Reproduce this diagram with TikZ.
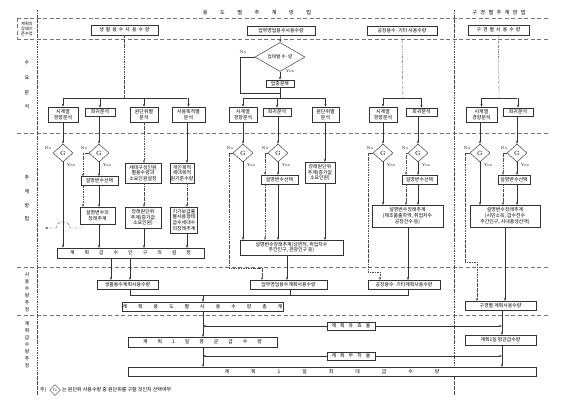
\documentclass[tikz,border=0pt]{standalone}
\usepackage{fontspec}
\newfontfamily\kr{Noto Sans CJK KR}
\usetikzlibrary{arrows.meta,shapes.geometric}
\newcommand\gp{\hspace{2pt}}
\begin{document}
\begin{tikzpicture}[x=1pt,y=-1pt,
 bx/.style={draw=black!80,line width=0.5pt,fill=white,inner sep=0.6pt,font=\kr\fontsize{4.9}{5.7}\selectfont,align=center},
 gd/.style={diamond,draw=black!80,line width=0.45pt,fill=white,inner sep=0pt,minimum width=20pt,minimum height=18pt,font=\fontsize{6}{6}\selectfont},
 ar/.style={draw=black!80,line width=0.4pt,-{Stealth[length=3pt,width=2.2pt]}},
 ln/.style={draw=black!80,line width=0.4pt},
 dd/.style={draw=black!70,line width=0.4pt,dash pattern=on 2.5pt off 1pt on 0.6pt off 1pt},
 dda/.style={dd,-{Stealth[length=3pt,width=2.2pt]}},
 sep/.style={draw=black!55,line width=0.5pt,dash pattern=on 4pt off 2.5pt},
 lb/.style={font=\kr\fontsize{4.8}{5.6}\selectfont,align=center,inner sep=0pt},
 yn/.style={font=\fontsize{4}{4}\selectfont,inner sep=0pt}]
\useasboundingbox (0,0) rectangle (574,401);
\fill[white] (0,0) rectangle (574,401);
% separators
\draw[sep] (17,18) -- (548,18);
\draw[sep] (17,39) -- (548,39);
\draw[sep] (17,133) -- (548,133);
\draw[sep] (17,267) -- (548,267);
\draw[sep] (17,315) -- (548,315);
\draw[sep] (17,18) -- (17,39);
\draw[dd] (37,10) -- (37,395);
\draw[dd] (454,10) -- (454,395);
% left labels
\node[lb,font=\kr\fontsize{4.2}{5}\selectfont] (L0) at (27,28.5) {계획의\\장래기\\준수정};
\node[lb,font=\kr\fontsize{5}{14.7}\selectfont] (L1) at (27,85) {수\\요\\분\\석};
\node[lb,font=\kr\fontsize{5}{13.7}\selectfont] (L2) at (27,198.5) {추\\계\\방\\법};
\node[lb,font=\kr\fontsize{4.8}{7}\selectfont] (L3) at (27,292.5) {사\\용\\수\\량\\추\\정};
\node[lb,font=\kr\fontsize{4.8}{7}\selectfont] (L4) at (27,344.5) {계\\획\\급\\수\\량\\추\\정};
% headers
\node[lb,font=\kr\fontsize{5.2}{6}\selectfont] (h1) at (257,13) {용\hspace{12.5pt}도\hspace{12.5pt}별\hspace{12.5pt}추\hspace{12.5pt}계\hspace{12.5pt}방\hspace{12.5pt}법};
\node[lb,font=\kr\fontsize{5.2}{6}\selectfont] (h2) at (499,13) {구\hspace{3.3pt}경\hspace{3.3pt}별\hspace{3.3pt}추\hspace{3.3pt}계\hspace{3.3pt}방\hspace{3.3pt}법};
% row 1 boxes
\node[bx,minimum width=67,minimum height=10] (t1) at (124.5,30) {생\gp 활\gp 용\gp 수\gp 사\gp 용\gp 수\gp 량};
\node[bx,minimum width=68,minimum height=9] (t2) at (281,30.5) {업무영업용수사용수량};
\node[bx,minimum width=70,minimum height=9] (t3) at (402,30.5) {공장용수·기타 사용수량};
\node[bx,minimum width=61,minimum height=10] (t4) at (498.5,30) {구\gp 경\gp 별\gp 사\gp 용\gp 수\gp 량};
% col2 top diamond
\node[diamond,draw=black!80,line width=0.45pt,fill=white,inner sep=0pt,minimum width=50,minimum height=29,font=\kr\fontsize{4.6}{5.6}\selectfont] (d0) at (280,57) {업태별 수·량};
\node[bx,minimum width=28,minimum height=7] (b0) at (280,83.5) {업종분류};
\node[yn] at (243,52) {No};
\node[yn] at (290,71) {Yes};
% row 2 boxes
\node[bx,minimum width=30,minimum height=15] (c1a) at (63,114.5) {시계열\\경향분석};
\node[bx,minimum width=30,minimum height=8] (c1b) at (100,112) {회귀분석};
\node[bx,minimum width=28,minimum height=15] (c1c) at (144,114.5) {원단위별\\분석};
\node[bx,minimum width=33,minimum height=15] (c1d) at (188.5,114.5) {사용목적별\\분석};
\node[bx,minimum width=28,minimum height=15] (c2a) at (243,114.5) {시계열\\경향분석};
\node[bx,minimum width=28,minimum height=8] (c2b) at (277,112) {회귀분석};
\node[bx,minimum width=27,minimum height=15] (c2c) at (325.5,114.5) {원단위별\\분석};
\node[bx,minimum width=28,minimum height=15] (c3a) at (383,114.5) {시계열\\경향분석};
\node[bx,minimum width=31,minimum height=8] (c3b) at (421.5,112) {회귀분석};
\node[bx,minimum width=31,minimum height=15] (c4a) at (481.5,114.5) {시계열\\경향분석};
\node[bx,minimum width=30,minimum height=8] (c4b) at (518,112) {회귀분석};
% row 1 -> bars
\draw[dd] (t1.south) -- (124.5,98);
\draw[ln] (63,98) -- (187,98);
\foreach \n in {c1a,c1b,c1c,c1d} \draw[ar] (\n.north |- 0,98) -- (\n.north);
\draw[ar] (t2.south) -- (d0.north);
\draw[ar] (d0.south) -- (b0.north);
\draw[ln] (b0.south) -- (280,98);
\draw[ln] (d0.west) -- (240,57) -- (240,93) -- (280,93);
\draw[ln] (243,98) -- (325,98);
\foreach \n in {c2a,c2b,c2c} \draw[ar] (\n.north |- 0,98) -- (\n.north);
\draw[dd] (t3.south) -- (403,98);
\draw[ln] (383,98) -- (421,98);
\foreach \n in {c3a,c3b} \draw[ar] (\n.north |- 0,98) -- (\n.north);
\draw[dd] (t4.south) -- (499,98);
\draw[ln] (481,98) -- (517,98);
\foreach \n in {c4a,c4b} \draw[ar] (\n.north |- 0,98) -- (\n.north);
% ===== row 3, column 1
\node[gd] (g11) at (63,153) {G};
\node[gd] (g12) at (99,153) {G};
\node[yn] at (48,148) {No}; \node[yn] at (71,165) {Yes};
\node[yn] at (84,148) {No}; \node[yn] at (107,165) {Yes};
\draw[ar] (c1a.south) -- (g11.north);
\draw[ar] (g12.north |- c1b.south) -- (g12.north);
\node[bx,minimum width=37,minimum height=9] (s11) at (99.5,181) {설명변수선택};
\node[bx,minimum width=35,minimum height=17] (p11) at (97.5,215.5) {설명변수의\\장래추계};
\node[bx,minimum width=36,minimum height=20] (s13) at (143,173) {세대구성인원\\별용수량과\\소요인원설정};
\node[bx,minimum width=36,minimum height=21] (p13) at (143,217.5) {장래원단위\\추계(증가값\\소요인원)};
\node[bx,minimum width=23,minimum height=20] (s14) at (182,173) {개인목적\\세대목적\\원기준수량};
\node[bx,minimum width=27,minimum height=26] (p14) at (184,220) {기기보급률\\물사용형태\\급수세대수\\의장래추계};
\node[bx,minimum width=147,minimum height=10] (w1) at (130.5,253) {계\hspace{10pt}획\hspace{10pt}급\hspace{10pt}수\hspace{10pt}인\hspace{10pt}구\hspace{10pt}의\hspace{10pt}설\hspace{10pt}정};
\draw[ar] (g12.south) -- (g12.south |- s11.north);
\draw[dda] (g12.west) -- (83,153) -- (83,176.5);
\draw[dda] (83,185.5) -- (83,207);
\draw[ar] (99,185.5) -- (99,207);
\draw[dd,-{Stealth[length=3pt,width=2.2pt]}] (83,224) -- (83,228) -- (70,228) .. controls (70,220) and (56,220) .. (56,228) -- (45,228);
\draw[ar] (g11.south) -- (g11.south |- w1.north);
\draw[ar] (99,224) -- (99,248);
\draw[dda] (c1c.south -| 144,0) -- (144,163);
\draw[dda] (144,183) -- (144,207);
\draw[ar] (144,228) -- (144,248);
\draw[ar] (187,122) -- (187,163);
\draw[dda] (187,183) -- (187,207);
\draw[ar] (187,233) -- (187,248);
% ===== row 3, column 2
\node[gd] (g21) at (243,153) {G};
\node[gd] (g22) at (278,153) {G};
\node[yn] at (230,148) {No}; \node[yn] at (251,165) {Yes};
\node[yn] at (265,148) {No}; \node[yn] at (286,165) {Yes};
\draw[ar] (c2a.south) -- (g21.north);
\draw[ar] (g22.north |- c2b.south) -- (g22.north);
\node[bx,minimum width=37,minimum height=9] (s21) at (279.5,179.5) {설명변수선택};
\node[bx,minimum width=30,minimum height=21] (s23) at (320,172.5) {장래원단위\\추계(증가값\\소요인원)};
\node[bx,minimum width=103,minimum height=15] (p2) at (291.5,247.5) {설명변수장래추계(상면적, 취업자수\\주간인구, 관광인구 등)};
\draw[dda] (g22.west) -- (265,153) -- (265,175);
\draw[ar] (g22.south) -- (278,175);
\draw[dda] (265,184) -- (265,240);
\draw[ar] (278,184) -- (278,240);
\draw[ar] (g21.south) -- (243,240);
\draw[ar] (325,122) -- (325,162);
\draw[ar] (325,183) -- (325,240);
% ===== row 3, column 3
\node[gd] (g31) at (383,153) {G};
\node[gd] (g32) at (418,153) {G};
\node[yn] at (370,148) {No}; \node[yn] at (391,165) {Yes};
\node[yn] at (405,148) {No}; \node[yn] at (426,165) {Yes};
\draw[ar] (c3a.south) -- (g31.north);
\draw[ar] (g32.north |- c3b.south) -- (g32.north);
\node[bx,minimum width=35,minimum height=9] (s31) at (419.5,179.5) {설명변수선택};
\node[bx,minimum width=71,minimum height=22] (p3) at (407.5,216) {설명변수장래추계\\(제조품출하액, 취업자수\\공장건수 등)};
\draw[dda] (g32.west) -- (406,153) -- (406,175);
\draw[ar] (g32.south) -- (418,175);
\draw[dda] (406,184) -- (406,205);
\draw[ar] (418,184) -- (418,205);
\draw[ar] (g31.south) -- (383,205);
% ===== row 3, column 4
\node[gd] (g41) at (480,153) {G};
\node[gd] (g42) at (517,153) {G};
\node[yn] at (467,148) {No}; \node[yn] at (488,165) {Yes};
\node[yn] at (504,148) {No}; \node[yn] at (525,165) {Yes};
\draw[ar] (c4a.south -| 480,0) -- (g41.north);
\draw[ar] (g42.north |- c4b.south) -- (g42.north);
\node[bx,minimum width=32,minimum height=9] (s41) at (514,179.5) {설명변수선택};
\node[bx,minimum width=70,minimum height=22] (p4) at (505,216) {설명변수장래추계\\(시민소득, 급수전수\\주간인구, 시내총생산액)};
\draw[dda] (g42.west) -- (503,153) -- (503,175);
\draw[ar] (g42.south) -- (517,175);
\draw[dda] (503,184) -- (503,205);
\draw[ar] (517,184) -- (517,205);
\draw[ar] (g41.south) -- (480,205);
% ===== row 4
\node[bx,minimum width=61,minimum height=9] (r1) at (127.5,284.5) {생활용수계획사용수량};
\node[bx,minimum width=77,minimum height=9] (r2) at (288.5,284.5) {업무영업용수계획사용수량};
\node[bx,minimum width=72,minimum height=9] (r3) at (404,284.5) {공장용수·기타계획사용수량};
\node[bx,minimum width=71,minimum height=9] (r4) at (500.5,305.5) {구경별 계획사용수량};
\node[bx,minimum width=149,minimum height=9] (w2) at (202.5,306.5) {계\hspace{11pt}획\hspace{11pt}용\hspace{11pt}도\hspace{11pt}별\hspace{11pt}사\hspace{11pt}용\hspace{11pt}수\hspace{11pt}량\hspace{11pt}총\hspace{11pt}계};
\draw[ar] (111,258) -- (111,280);
\draw[ar] (130,258) -- (130,280);
\draw[dda] (g21.west) -- (229,153) -- (229,268) -- (262,268) -- (262,280);
\draw[ar] (287,255) -- (287,280);
\draw[dda] (g31.west) -- (368,153) -- (368,272) -- (380,272) -- (380,280);
\draw[ar] (408,227) -- (408,280);
\draw[dda] (g41.west) -- (465,153) -- (465,262) -- (477,262) -- (477,301);
\draw[ar] (505,227) -- (505,301);
\draw[ln] (130,289) -- (130,295) -- (408,295) -- (408,289);
\draw[ln] (290,289) -- (290,295);
\draw[ar] (203,295) -- (203,302);
% ===== row 5
\node[bx,minimum width=48,minimum height=8] (e1) at (351,326) {계\hspace{4pt}획\hspace{4pt}유\hspace{4pt}효\hspace{4pt}율};
\node[bx,minimum width=149,minimum height=10] (w3) at (202.5,342) {계\hspace{10pt}획\hspace{10pt}1\hspace{10pt}일\hspace{10pt}평\hspace{10pt}균\hspace{10pt}급\hspace{10pt}수\hspace{10pt}량};
\node[bx,minimum width=71,minimum height=10] (r5) at (500.5,340) {계획1일 평균급수량};
\node[bx,minimum width=48,minimum height=8] (e2) at (351,356) {계\hspace{4pt}획\hspace{4pt}부\hspace{4pt}하\hspace{4pt}율};
\node[bx,minimum width=408,minimum height=9] (w4) at (332,371.5) {계\hspace{22pt}획\hspace{22pt}1\hspace{22pt}일\hspace{22pt}최\hspace{22pt}대\hspace{22pt}급\hspace{22pt}수\hspace{22pt}량};
\draw[ar] (203,311) -- (203,337);
\draw[ar] (502,310) -- (502,335);
\draw[ar] (e1.west) -- (203,326);
\draw[ar] (e1.east) -- (502,326);
\draw[ar] (203,347) -- (203,367);
\draw[ar] (502,345) -- (502,367);
\draw[ar] (e2.west) -- (203,356);
\draw[ar] (e2.east) -- (502,356);
% footnote
\node[lb,anchor=west] (fn0) at (40,390) {주)};
\node[gd,minimum width=11,minimum height=11,font=\fontsize{4}{4}\selectfont] (fg) at (55,390) {G};
\node[lb,anchor=west,font=\kr\fontsize{5}{6}\selectfont] (fn1) at (62,390) {는 원단위 사용수량 중 원단위를 구할 것인지 선택여부};
\end{tikzpicture}
\end{document}
